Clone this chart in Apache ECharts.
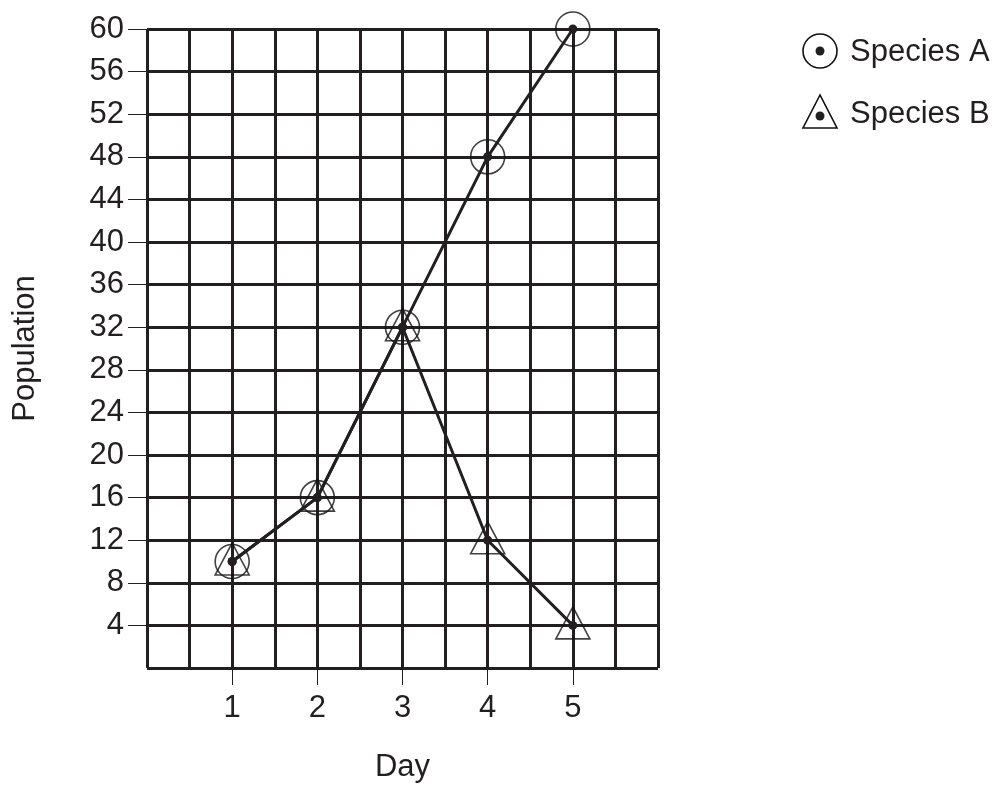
<!DOCTYPE html>
<html><head><meta charset="utf-8">
<script src="https://cdn.jsdelivr.net/npm/echarts@6/dist/echarts.min.js"></script>
<style>html,body{margin:0;padding:0;background:#fff}#c{width:996px;height:804px}</style>
</head><body><div id="c"></div>
<script>
const days = [1, 2, 3, 4, 5];
const speciesA = [10, 16, 32, 48, 60];
const speciesB = [10, 16, 32, 12, 4];
const yTickLabels = [4, 8, 12, 16, 20, 24, 28, 32, 36, 40, 44, 48, 52, 56, 60];
const dayTickLabels = [1, 2, 3, 4, 5];
const seriesNames = ['Species A', 'Species B'];

const INK = '#231f20';
const FONT = 'Liberation Sans';

const ptsA = days.map((d, i) => [d, speciesA[i]]);
const ptsB = days.map((d, i) => [d, speciesB[i]]);

const chart = echarts.init(document.getElementById('c'), null, {renderer: 'canvas'});
chart.setOption({
  animation: false,
  backgroundColor: '#fff',
  grid: {left: 147, right: 338, top: 29, bottom: 136},
  xAxis: [
    {
      type: 'value', min: 0, max: 6, interval: 0.5, position: 'bottom',
      axisLine: {show: false}, axisTick: {show: false}, axisLabel: {show: false},
      splitLine: {show: true, showMinLine: true, showMaxLine: true, lineStyle: {color: INK, width: 3}}
    },
    {
      type: 'value', min: 0, max: 6, interval: 1, position: 'bottom',
      name: 'Day', nameLocation: 'middle', nameGap: 84,
      nameTextStyle: {fontFamily: FONT, fontSize: 31, color: INK},
      axisLine: {show: false},
      axisTick: {show: true, length: 17, customValues: dayTickLabels, lineStyle: {color: INK, width: 1}},
      axisLabel: {show: true, margin: 25, customValues: dayTickLabels, fontFamily: FONT, fontSize: 31, color: INK},
      splitLine: {show: false}
    }
  ],
  yAxis: [
    {
      type: 'value', min: 0, max: 60, interval: 4, position: 'left',
      axisLine: {show: false}, axisTick: {show: false}, axisLabel: {show: false},
      splitLine: {show: true, showMinLine: true, showMaxLine: true, lineStyle: {color: INK, width: 3}}
    },
    {
      type: 'value', min: 0, max: 60, interval: 4, position: 'left',
      name: 'Population', nameLocation: 'middle', nameGap: 106, nameRotate: 90,
      nameTextStyle: {fontFamily: FONT, fontSize: 31, color: INK},
      axisLine: {show: false},
      axisTick: {show: true, length: 19, customValues: yTickLabels, lineStyle: {color: INK, width: 1}},
      axisLabel: {show: true, margin: 23, customValues: yTickLabels, fontFamily: FONT, fontSize: 31, color: INK},
      splitLine: {show: false}
    }
  ],
  series: [
    {
      name: seriesNames[0] + ' marker', type: 'scatter', data: ptsA, xAxisIndex: 0, yAxisIndex: 0,
      symbol: 'circle', symbolSize: 34, z: 3, silent: true,
      itemStyle: {color: 'rgba(0,0,0,0)', borderColor: '#111', borderWidth: 1.6}
    },
    {
      name: seriesNames[1] + ' marker', type: 'scatter', data: ptsB, xAxisIndex: 0, yAxisIndex: 0,
      symbol: 'triangle', symbolSize: [34, 32], symbolOffset: [0, -2.5], z: 3, silent: true,
      itemStyle: {color: 'rgba(0,0,0,0)', borderColor: '#111', borderWidth: 1.6}
    },
    {
      name: seriesNames[0], type: 'line', data: ptsA, xAxisIndex: 0, yAxisIndex: 0,
      symbol: 'circle', symbolSize: 9, showSymbol: true, z: 4,
      itemStyle: {color: INK}, lineStyle: {color: INK, width: 3}
    },
    {
      name: seriesNames[1], type: 'line', data: ptsB, xAxisIndex: 0, yAxisIndex: 0,
      symbol: 'circle', symbolSize: 9, showSymbol: true, z: 4,
      itemStyle: {color: INK}, lineStyle: {color: INK, width: 3}
    }
  ],
  graphic: [
    {type: 'circle', shape: {cx: 820, cy: 51, r: 17}, style: {fill: 'none', stroke: '#111', lineWidth: 1.6}},
    {type: 'circle', shape: {cx: 820, cy: 51, r: 4.5}, style: {fill: INK}},
    {type: 'text', x: 850, y: 52, style: {text: seriesNames[0], font: '31px "Liberation Sans"', fill: INK, verticalAlign: 'middle'}},
    {type: 'polygon', shape: {points: [[820, 95], [803, 128], [837, 128]]}, style: {fill: 'none', stroke: '#111', lineWidth: 1.6}},
    {type: 'circle', shape: {cx: 820, cy: 116, r: 4.5}, style: {fill: INK}},
    {type: 'text', x: 850, y: 114, style: {text: seriesNames[1], font: '31px "Liberation Sans"', fill: INK, verticalAlign: 'middle'}}
  ]
});
</script>
</body></html>
